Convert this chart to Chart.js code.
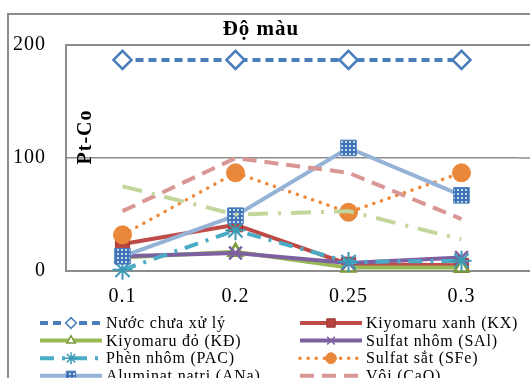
<!DOCTYPE html>
<html>
<head>
<meta charset="utf-8">
<script src="https://cdn.jsdelivr.net/npm/chart.js@4/dist/chart.umd.min.js"></script>
<style>
  html, body { margin: 0; padding: 0; background: #fff; overflow: hidden; }
  #wrap { width: 530px; height: 378px; }
</style>
</head>
<body>
<div id="wrap"><canvas id="c" width="530" height="378"></canvas></div>
<script>
// Liều lượng chất keo tụ (trục hoành)
const doses = ['0.1', '0.2', '0.25', '0.3'];

// Độ màu (Pt-Co) theo từng chất keo tụ
const untreated = [187, 187, 187, 187];   // Nước chưa xử lý
const kiyoXanh  = [24, 41, 6, 5];          // Kiyomaru xanh (KX)
const kiyoDo    = [12, 17, 3, 3];          // Kiyomaru đỏ (KĐ)
const sulfatAl  = [13, 16, 7, 12];         // Sulfat nhôm (SAl)
const pac       = [1, 36, 8, 9];           // Phèn nhôm (PAC)
const sulfatFe  = [32, 87, 52, 87];        // Sulfat sắt (SFe)
const aluminat  = [13, 49, 109, 67];       // Aluminat natri (ANa)
const voi       = [53, 100, 87, 46];       // Vôi (CaO)
const khac      = [75, 50, 53, 28];        // Chất keo tụ khác

const yTicks = [0, 100, 200];

const SERIF = "'Liberation Serif', 'Times New Roman', serif";

// Ô vuông xanh có chấm trắng cho điểm của Aluminat natri
function dottedPattern() {
  const t = document.createElement('canvas');
  t.width = 4; t.height = 4;
  const g = t.getContext('2d');
  g.fillStyle = '#3f73b8';
  g.fillRect(0, 0, 4, 4);
  g.fillStyle = '#c9d9ee';
  g.fillRect(1, 1, 2, 2);
  return document.getElementById('c').getContext('2d').createPattern(t, 'repeat');
}

function series(label, data, s, order) {
  return Object.assign({
    label, data, order,
    fill: false, tension: 0, clip: false,
    borderWidth: 4, borderCapStyle: 'butt',
    pointRadius: 0, pointHoverRadius: 0
  }, s);
}

const datasets = [
  series('Nước chưa xử lý', untreated, {
    borderColor: '#4a7ebb', borderDash: [8, 5],
    pointStyle: 'rectRot', pointRadius: 9, pointBorderWidth: 2.5,
    pointBackgroundColor: '#ffffff', pointBorderColor: '#4a7ebb'
  }, 9),
  series('Kiyomaru xanh (KX)', kiyoXanh, {
    borderColor: '#be4b48',
    pointStyle: 'rect', pointRadius: 10, pointBorderWidth: 1,
    pointBackgroundColor: '#b8433f', pointBorderColor: '#a03a37'
  }, 8),
  series('Kiyomaru đỏ (KĐ)', kiyoDo, {
    borderColor: '#98b954',
    pointStyle: 'triangle', pointRadius: 8, pointBorderWidth: 2.5,
    pointBackgroundColor: '#ffffff', pointBorderColor: '#7a9a3c'
  }, 7),
  series('Sulfat nhôm (SAl)', sulfatAl, {
    borderColor: '#7d60a0',
    pointStyle: 'crossRot', pointRadius: 9, pointBorderWidth: 2.5,
    pointBackgroundColor: '#7d60a0', pointBorderColor: '#7d60a0'
  }, 6),
  series('Phèn nhôm (PAC)', pac, {
    borderColor: '#4bacc6', borderDash: [14, 8, 3, 8],
    pointStyle: 'star', pointRadius: 10, pointBorderWidth: 2,
    pointBackgroundColor: '#4bacc6', pointBorderColor: '#3a9ab5'
  }, 5),
  series('Sulfat sắt (SFe)', sulfatFe, {
    borderColor: '#f0883a', borderDash: [0.1, 8], borderWidth: 3.5, borderCapStyle: 'round',
    pointStyle: 'circle', pointRadius: 9, pointBorderWidth: 1,
    pointBackgroundColor: '#e9883a', pointBorderColor: '#e9883a'
  }, 4),
  series('Aluminat natri (ANa)', aluminat, {
    borderColor: '#95b3d7',
    pointStyle: 'rect', pointRadius: 11, pointBorderWidth: 1,
    pointBackgroundColor: dottedPattern(), pointBorderColor: '#4a7ebb'
  }, 3),
  series('Vôi (CaO)', voi, {
    borderColor: '#d99694', borderDash: [14, 8]
  }, 2),
  series('Chất keo tụ khác', khac, {
    borderColor: '#c3d69b', borderDash: [20, 10, 3, 10]
  }, 1)
];

// Khung ngoài, chữ giãn, phần kéo dài của lưới
const framePlugin = {
  id: 'frame',
  beforeDraw(chart) {
    const ctx = chart.ctx;
    ctx.save();
    ctx.fillStyle = '#ffffff';
    ctx.fillRect(0, 0, chart.width, chart.height);
    ctx.strokeStyle = '#8c8c8c';
    ctx.lineWidth = 2;
    ctx.strokeRect(8, 14, chart.width + 10, chart.height + 10);
    ctx.restore();
    ctx.letterSpacing = '1px';
  },
  beforeDatasetsDraw(chart) {
    const ctx = chart.ctx, a = chart.chartArea, y = chart.scales.y;
    ctx.save();
    ctx.strokeStyle = '#8c8c8c';
    yTicks.forEach(v => {
      ctx.lineWidth = v === 100 ? 1.5 : 2;
      const py = Math.round(y.getPixelForValue(v));
      ctx.beginPath();
      ctx.moveTo(a.right, py);
      ctx.lineTo(chart.width, py);
      ctx.stroke();
    });
    ctx.restore();
  }
};

// Nhãn trục tung và chú giải hai cột
const textPlugin = {
  id: 'texts',
  afterDraw(chart) {
    const ctx = chart.ctx;
    ctx.save();
    ctx.letterSpacing = '1px';
    ctx.translate(86, 137);
    ctx.rotate(-Math.PI / 2);
    ctx.font = 'bold 20px ' + SERIF;
    ctx.fillStyle = '#000';
    ctx.textAlign = 'center';
    ctx.textBaseline = 'middle';
    ctx.fillText('Pt-Co', 0, 0);
    ctx.restore();

    chart.data.datasets.forEach((ds, i) => {
      const col = i % 2, row = Math.floor(i / 2);
      const y = 323 + row * 17.6;
      const x0 = col ? 300 : 40, x1 = x0 + 62;
      ctx.save();
      ctx.strokeStyle = ds.borderColor;
      ctx.lineWidth = ds.borderWidth;
      ctx.lineCap = ds.borderCapStyle || 'butt';
      ctx.setLineDash(ds.borderDash || []);
      ctx.beginPath();
      ctx.moveTo(x0, y);
      ctx.lineTo(x1, y);
      ctx.stroke();
      ctx.setLineDash([]);
      if (ds.pointRadius > 0) {
        ctx.fillStyle = ds.pointBackgroundColor;
        ctx.strokeStyle = ds.pointBorderColor;
        ctx.lineWidth = Math.min(ds.pointBorderWidth, 1.5);
        Chart.helpers.drawPoint(ctx, {
          pointStyle: ds.pointStyle, radius: ds.pointRadius * 0.6,
          borderWidth: ctx.lineWidth, rotation: 0
        }, (x0 + x1) / 2, y);
      }
      ctx.letterSpacing = '0.8px';
      ctx.font = '16px ' + SERIF;
      ctx.fillStyle = '#000';
      ctx.textAlign = 'left';
      ctx.textBaseline = 'middle';
      ctx.fillText(ds.label, x1 + 4, y + 1);
      ctx.restore();
    });
  }
};

new Chart(document.getElementById('c'), {
  type: 'line',
  data: { labels: doses, datasets },
  options: {
    responsive: false,
    animation: false,
    events: [],
    devicePixelRatio: 1,
    layout: { padding: { left: 0, right: 8, top: 0, bottom: 0 } },
    plugins: {
      legend: { display: false },
      tooltip: { enabled: false },
      title: {
        display: true,
        text: 'Độ màu',
        color: '#000',
        font: { family: SERIF, size: 21, weight: 'bold', lineHeight: 1.2 },
        padding: { top: 17, bottom: 3 }
      }
    },
    scales: {
      x: {
        type: 'category',
        offset: true,
        grid: { display: false, drawTicks: false },
        border: { display: true, color: '#8c8c8c', width: 2 },
        ticks: { color: '#000', font: { family: SERIF, size: 20 }, padding: 14, maxRotation: 0 },
        afterFit(s) { s.height = 107; }
      },
      y: {
        min: 0, max: 200,
        afterBuildTicks(s) { s.ticks = yTicks.map(v => ({ value: v })); },
        grid: {
          drawTicks: false,
          color: '#8c8c8c',
          lineWidth: c => (c.tick && c.tick.value === 100 ? 1.5 : 2)
        },
        border: { display: true, color: '#8c8c8c', width: 2 },
        ticks: { color: '#000', font: { family: SERIF, size: 20 }, padding: 20 },
        afterFit(s) { s.width = 66; }
      }
    }
  },
  plugins: [framePlugin, textPlugin]
});
</script>
</body>
</html>
